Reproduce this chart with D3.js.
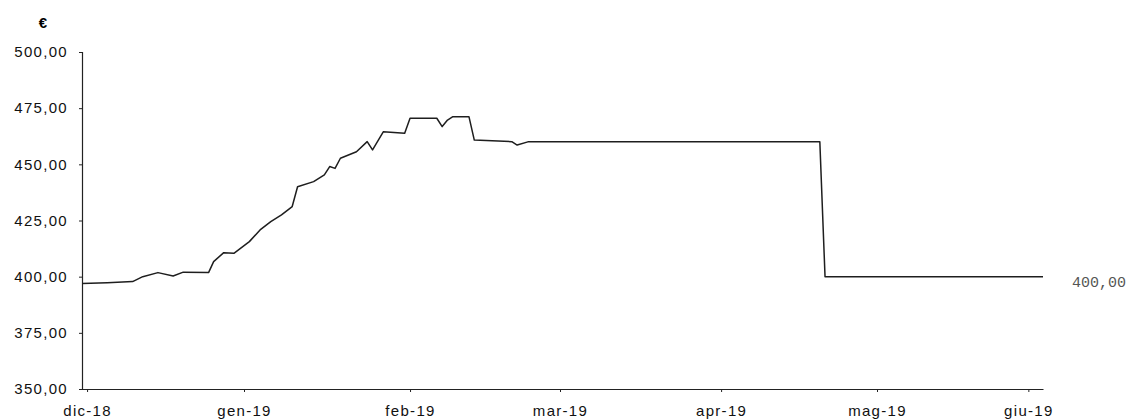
<!DOCTYPE html>
<html>
<head>
<meta charset="utf-8">
<script src="https://cdn.jsdelivr.net/npm/d3@7"></script>
<style>
  body { margin: 0; background: #fff; }
  .axis text { font-family: "Liberation Sans", Arial, sans-serif; font-size: 15px; fill: #111; letter-spacing: 1.3px; }
  .axis path, .axis line { stroke: #222; }
</style>
</head>
<body>
<div id="chart"></div>
<script>
// prezzo giornaliero (€)
const dates = [
  "2018-11-30", "2018-12-05", "2018-12-10", "2018-12-12", "2018-12-15", "2018-12-18",
  "2018-12-20", "2018-12-25", "2018-12-26", "2018-12-28", "2018-12-30",
  "2019-01-02", "2019-01-04", "2019-01-06", "2019-01-08", "2019-01-10", "2019-01-11",
  "2019-01-14", "2019-01-16", "2019-01-17", "2019-01-18", "2019-01-19", "2019-01-22",
  "2019-01-24", "2019-01-25", "2019-01-27", "2019-01-31", "2019-02-01", "2019-02-06",
  "2019-02-07", "2019-02-08", "2019-02-09", "2019-02-12", "2019-02-13", "2019-02-20",
  "2019-02-21", "2019-02-23", "2019-03-15", "2019-04-01", "2019-04-20", "2019-04-21",
  "2019-05-10", "2019-06-04"
];
const values = [
  397.0, 397.3, 397.8, 400.0, 401.8, 400.3,
  402.0, 401.8, 406.7, 410.7, 410.4,
  415.6, 420.8, 424.5, 427.5, 431.2, 440.0,
  442.3, 445.3, 449.0, 448.2, 452.7, 455.6,
  460.1, 456.4, 464.5, 463.8, 470.5, 470.5,
  466.8, 469.7, 471.2, 471.2, 460.8, 460.1,
  458.6, 460.0, 460.0, 460.0, 460.0, 400.0,
  400.0, 400.0
];

const monthTicks = ["2018-12-01", "2019-01-01", "2019-02-01", "2019-03-01", "2019-04-01", "2019-05-01", "2019-06-01"];
const monthLabels = ["dic-18", "gen-19", "feb-19", "mar-19", "apr-19", "mag-19", "giu-19"];
const yTicks = [350, 375, 400, 425, 450, 475, 500];
const unitLabel = "€";
const lastLabel = "400,00";

const width = 1132, height = 420;
const parse = d3.timeParse("%Y-%m-%d");
const data = dates.map((d, i) => ({ date: parse(d), value: values[i] }));

const svg = d3.select("#chart").append("svg")
  .attr("width", width)
  .attr("height", height);

// scala del tempo a tratti (la scansione originale non è uniforme)
const x = d3.scaleTime()
  .domain([parse("2018-11-30"), parse("2019-01-01"), parse("2019-03-01"), parse("2019-05-01"), parse("2019-06-04")])
  .range([82, 244, 560, 877, 1043]);

const y = d3.scaleLinear()
  .domain([350, 500])
  .range([389, 52]);

const fmt = d => d3.format(".2f")(d).replace(".", ",");

svg.append("g")
  .attr("class", "axis")
  .attr("transform", "translate(82,0)")
  .call(d3.axisLeft(y).tickValues(yTicks).tickSize(3).tickPadding(11).tickFormat(fmt));

svg.append("g")
  .attr("class", "axis")
  .attr("transform", "translate(0,389)")
  .call(d3.axisBottom(x).tickValues(monthTicks.map(parse)).tickSize(3).tickSizeOuter(0).tickPadding(13)
    .tickFormat((d, i) => monthLabels[i]));

svg.selectAll(".axis .domain").attr("stroke-width", 1.2);

svg.append("text")
  .attr("x", 43)
  .attr("y", 28)
  .attr("text-anchor", "middle")
  .style("font-family", "Liberation Sans, Arial, sans-serif")
  .style("font-size", "15px")
  .style("font-weight", "bold")
  .text(unitLabel);

svg.append("path")
  .datum(data)
  .attr("fill", "none")
  .attr("stroke", "#1e1e1e")
  .attr("stroke-width", 1.5)
  .attr("stroke-linejoin", "round")
  .attr("d", d3.line().x(d => x(d.date)).y(d => y(d.value)));

const last = data[data.length - 1];
svg.append("text")
  .attr("x", x(last.date) + 29)
  .attr("y", y(last.value) + 10)
  .style("font-family", "Liberation Mono, monospace")
  .style("font-size", "15px")
  .style("fill", "#555")
  .text(lastLabel);
</script>
</body>
</html>
